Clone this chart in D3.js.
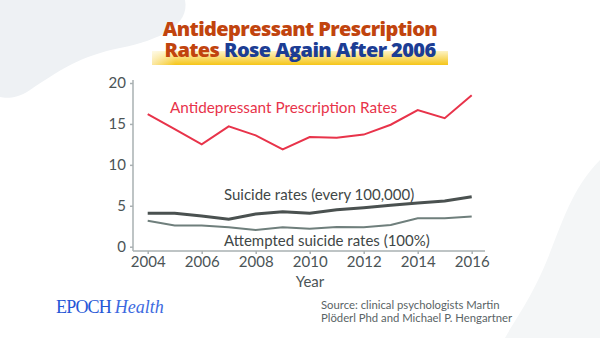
<!DOCTYPE html>
<html><head><meta charset="utf-8">
<script src="https://cdn.jsdelivr.net/npm/d3@7"></script>
<style>html,body{margin:0;padding:0;background:#fff;}svg{display:block;}</style>
</head><body>
<script>
const years = [2004,2005,2006,2007,2008,2009,2010,2011,2012,2013,2014,2015,2016];
const antidepressant = [16.2,14.35,12.5,14.7,13.6,11.9,13.4,13.3,13.7,14.9,16.7,15.7,18.5];
const suicide = [4.08,4.08,3.75,3.35,4.0,4.28,4.08,4.52,4.77,5.06,5.34,5.59,6.1];
const attempted = [3.18,2.6,2.6,2.37,2.04,2.37,2.2,2.4,2.37,2.65,3.47,3.47,3.7];
const xTicks = [2004,2006,2008,2010,2012,2014,2016];
const yTicks = [0,5,10,15,20];

const W=600,H=338;
const svg=d3.select("body").append("svg").attr("width",W).attr("height",H);
const defs=svg.append("defs");
const g1=defs.append("linearGradient").attr("id","hl").attr("x1",0).attr("y1",0).attr("x2",0).attr("y2",1);
g1.append("stop").attr("offset","0%").attr("stop-color","#fdf3c4");
g1.append("stop").attr("offset","100%").attr("stop-color","#f5c518");
const g2=defs.append("linearGradient").attr("id","hlx").attr("x1",0).attr("y1",0).attr("x2",1).attr("y2",0);
g2.append("stop").attr("offset","0%").attr("stop-color","#fff").attr("stop-opacity",0.6);
g2.append("stop").attr("offset","8%").attr("stop-color","#fff").attr("stop-opacity",0);
g2.append("stop").attr("offset","100%").attr("stop-color","#fff").attr("stop-opacity",0);

// background blobs
svg.append("path").attr("d","M0,0 L185,0 C190,25 160,40 120,48 C80,56 60,70 30,90 C15,100 5,98 0,97 Z").attr("fill","#eef1f4");
svg.append("path").attr("d","M600,160 C570,190 560,230 545,265 C530,300 515,320 505,338 L600,338 Z").attr("fill","#f4f6f7");

// title
svg.append("rect").attr("x",152).attr("y",51).attr("width",296).attr("height",14).attr("fill","url(#hl)");
svg.append("rect").attr("x",152).attr("y",51).attr("width",296).attr("height",14).attr("fill","url(#hlx)");
const tf="'Open Sans', 'Noto Sans', sans-serif";
svg.append("text").attr("x",300).attr("y",36).attr("text-anchor","middle").attr("font-family",tf)
  .attr("font-weight",800).attr("font-size",20).attr("letter-spacing",-0.6).attr("fill","#c1440e").text("Antidepressant Prescription");
const t2=svg.append("text").attr("x",300).attr("y",57).attr("text-anchor","middle").attr("font-family",tf)
  .attr("font-weight",800).attr("font-size",20).attr("letter-spacing",-0.6);
t2.append("tspan").attr("fill","#c1440e").text("Rates ");
t2.append("tspan").attr("fill","#1c3d94").text("Rose Again After 2006");

const x=d3.scaleLinear().domain([2004,2016]).range([147.7,471.7]);
const y=d3.scaleLinear().domain([0,20]).range([246.7,83]);
const lf="Lato, 'Noto Sans', sans-serif";
const axisCol="#a9b0b2", txtCol="#4b5456";

// axes
const xa=svg.append("g").attr("transform","translate(0,251)")
  .call(d3.axisBottom(x).tickValues(xTicks).tickFormat(d3.format("d")).tickSize(3).tickSizeOuter(0));
xa.select(".domain").attr("d","M133,0H485");
const ya=svg.append("g").attr("transform","translate(133,0)")
  .call(d3.axisLeft(y).tickValues(yTicks).tickSize(3).tickSizeOuter(0));
ya.select(".domain").attr("d","M0,80V251");
[xa,ya].forEach(a=>{
  a.selectAll(".domain").attr("stroke",axisCol).attr("stroke-width",1.5);
  a.selectAll(".tick line").attr("stroke",axisCol).attr("stroke-width",1.5);
  a.selectAll(".tick text").attr("fill",txtCol).attr("font-family",lf).attr("font-size",15);
});
xa.selectAll(".tick text").attr("dy","0.75em").attr("y",5);
ya.selectAll(".tick text").attr("x",-7);

svg.append("text").attr("x",310).attr("y",287).attr("text-anchor","middle").attr("font-family",lf)
  .attr("font-size",15).attr("fill",txtCol).text("Year");

const line=d3.line().x((d,i)=>x(years[i])).y(d=>y(d));
svg.append("path").datum(attempted).attr("d",line).attr("fill","none").attr("stroke","#6f7f7c").attr("stroke-width",2);
svg.append("path").datum(suicide).attr("d",line).attr("fill","none").attr("stroke","#4a5150").attr("stroke-width",3);
svg.append("path").datum(antidepressant).attr("d",line).attr("fill","none").attr("stroke","#e8334a").attr("stroke-width",2);

svg.append("text").attr("x",170).attr("y",113).attr("font-family",lf).attr("font-size",15.3).attr("fill","#e8334a").text("Antidepressant Prescription Rates");
svg.append("text").attr("x",224).attr("y",200).attr("font-family",lf).attr("font-size",15).attr("fill","#3f4747").text("Suicide rates (every 100,000)");
svg.append("text").attr("x",224).attr("y",246).attr("font-family",lf).attr("font-size",15).attr("fill","#3f4747").text("Attempted suicide rates (100%)");

// footer
const ep=svg.append("text").attr("x",56).attr("y",313).attr("font-family","'Liberation Serif', 'DejaVu Serif', serif").attr("font-size",18);
ep.append("tspan").attr("fill","#2456d6").attr("letter-spacing",-0.8).text("EPOCH ");
ep.append("tspan").attr("fill","#3d6ae0").attr("font-style","italic").text("Health");

const sf=svg.append("g").attr("font-family",lf).attr("font-size",11.3).attr("fill","#5a6466");
sf.append("text").attr("x",321).attr("y",309).text("Source: clinical psychologists Martin");
sf.append("text").attr("x",321).attr("y",321.5).text("Plöderl Phd and Michael P. Hengartner");
</script>
</body></html>
